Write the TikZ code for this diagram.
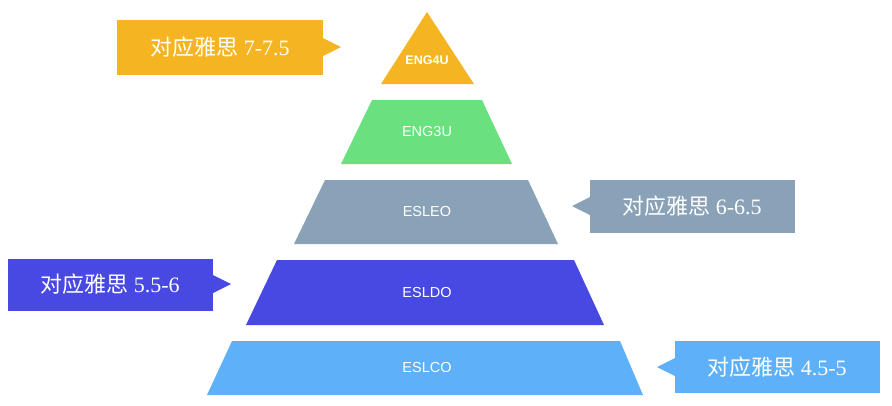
\documentclass[tikz,border=0pt]{standalone}
\usepackage{fontspec}
\setmainfont{Liberation Serif}
\newfontfamily\cjk{Noto Sans CJK SC}
\newfontfamily\lab{Liberation Sans}
\begin{document}
\begin{tikzpicture}[x=1pt,y=-1pt,
  lay/.style={text=white,font=\lab\fontsize{14.5}{16}\selectfont},
  call/.style={text=white,font=\fontsize{22}{26}\selectfont}]
\useasboundingbox (0,0) rectangle (892,405);
\definecolor{c1}{HTML}{F5B523}
\definecolor{c2}{HTML}{6AE07E}
\definecolor{c3}{HTML}{8AA2B7}
\definecolor{c4}{HTML}{4848E2}
\definecolor{c5}{HTML}{5EB0F8}
% layers
\fill[c1] (427,12) -- (474,84) -- (381,84) -- cycle;
\fill[c2] (372,100) -- (482,100) -- (512,164) -- (341,164) -- cycle;
\fill[c3] (325,180) -- (528,180) -- (558,244) -- (294,244) -- cycle;
\fill[c4] (277,260) -- (574,260) -- (604,325) -- (246,325) -- cycle;
\fill[c5] (232,341) -- (620,341) -- (643,395) -- (207,395) -- cycle;
\node[lay,font=\lab\bfseries\fontsize{12.5}{14}\selectfont] (l1) at (427,60) {ENG4U};
\node[lay] (l2) at (427,132) {ENG3U};
\node[lay] (l3) at (427,212) {ESLEO};
\node[lay] (l4) at (427,293) {ESLDO};
\node[lay] (l5) at (427,368) {ESLCO};
% callouts
\fill[c1] (117,20) rectangle (323,75);
\fill[c1] (323,38) -- (341,47) -- (323,56) -- cycle;
\node[call] (t1) at (220,47) {{\cjk 对应雅思} 7-7.5};
\fill[c3] (590,180) rectangle (795,233);
\fill[c3] (590,197) -- (572,206) -- (590,215) -- cycle;
\node[call] (t2) at (692,206) {{\cjk 对应雅思} 6-6.5};
\fill[c4] (8,259) rectangle (213,311);
\fill[c4] (213,275) -- (231,284) -- (213,293) -- cycle;
\node[call] (t3) at (110,284) {{\cjk 对应雅思} 5.5-6};
\fill[c5] (675,341) rectangle (880,393);
\fill[c5] (675,358) -- (657,367) -- (675,376) -- cycle;
\node[call] (t4) at (777,367) {{\cjk 对应雅思} 4.5-5};
\end{tikzpicture}
\end{document}
